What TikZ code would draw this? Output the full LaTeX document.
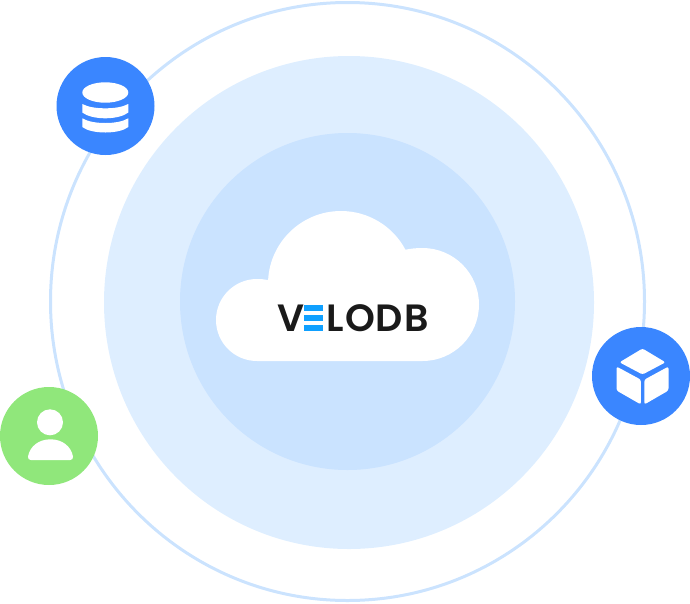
\documentclass[tikz,border=0pt]{standalone}
\usepackage{fontspec}
\setmainfont{Poppins}[UprightFont=* SemiBold,BoldFont=* Bold]
\definecolor{ringblue}{HTML}{CBE3FE}
\definecolor{midblue}{HTML}{DEEEFF}
\definecolor{innerblue}{HTML}{CAE3FF}
\definecolor{iconblue}{HTML}{3A86FF}
\definecolor{icongreen}{HTML}{90E77B}
\definecolor{logoblue}{HTML}{0FA0FF}
\definecolor{logoblack}{HTML}{1A1A1A}
\tikzset{
  icondisc/.style={circle,inner sep=0pt,minimum size=98pt,fill=#1},
  glyph/.style={fill=white,draw=none},
  facet/.style={fill=white,draw=none,rounded corners=2.2pt},
  logobar/.style={fill=logoblue,draw=none},
}
\begin{document}
\begin{tikzpicture}[x=1pt,y=-1pt]
\useasboundingbox (0,0) rectangle (690,603);
% rings
\draw[ringblue,line width=3pt] (347.5,301.5) ellipse[x radius=297,y radius=299];
\fill[midblue] (349,302.5) ellipse[x radius=245,y radius=246.5];
\fill[innerblue] (347.5,301.5) ellipse[x radius=167.5,y radius=168.5];
% cloud
\fill[white] (257,361) arc[start angle=90,end angle=270,radius=41]
  .. controls (261,279) and (264.5,279.3) .. (268,280) -- (268,284)
  arc[start angle=180,end angle=332,radius=73]
  .. controls (410,248.7) and (416,248) .. (422.5,248)
  arc[start angle=-90,end angle=90,radius=56.5] -- cycle;
% wordmark
\node[anchor=base west,inner sep=0pt,text=logoblack,font=\fontsize{38}{38}\selectfont] (logo) at (277.3,331)
  {V\hspace{1pt}\textcolor{white}{E}\hspace{1pt}L\hspace{1pt}O\hspace{1pt}D\hspace{1pt}B};
\fill[logobar] (304,304.7) rectangle (323,310.7);
\fill[logobar] (304,315.2) rectangle (323,320.8);
\fill[logobar] (304,325.4) rectangle (323,331);
% database icon
\node[icondisc=iconblue] (db) at (105.5,106) {};
\fill[glyph] (105.3,92.5) ellipse[x radius=23,y radius=10.2];
\fill[glyph] (82.3,104) .. controls (88,107) and (96,108.3) .. (105.3,108.3)
  .. controls (114.6,108.3) and (122.6,107) .. (128.3,104) -- (128.3,112.5)
  .. controls (124,116) and (115,118.3) .. (105.3,118.3)
  .. controls (95.6,118.3) and (86.6,116) .. (82.3,112.5) -- cycle;
\fill[glyph] (82.3,118.3) .. controls (88,121.6) and (96,123) .. (105.3,123)
  .. controls (114.6,123) and (122.6,121.6) .. (128.3,118.3) -- (128.3,127)
  .. controls (124,130.5) and (115,132.5) .. (105.3,132.5)
  .. controls (95.6,132.5) and (86.6,130.5) .. (82.3,127) -- cycle;
% cube icon
\node[icondisc=iconblue] (cube) at (641,376) {};
\fill[facet] (642.5,348.5) -- (665.5,362.3) -- (642.5,374.5) -- (619.5,362.3) -- cycle;
\fill[facet] (616.5,366.5) -- (640.9,379.7) -- (640.9,404.5) -- (616.5,390.5) -- cycle;
\fill[facet] (644.3,379.7) -- (668.5,366.5) -- (668.5,390.5) -- (644.3,404.5) -- cycle;
% person icon
\node[icondisc=icongreen] (user) at (49,436) {};
\fill[glyph] (50,422.3) circle[radius=13];
\fill[glyph] (28,456.5) .. controls (30,446) and (39,439.3) .. (50.5,439.3)
  .. controls (62,439.3) and (71,446) .. (73,456.5)
  .. controls (73.3,459) and (72,460) .. (70,460) -- (31,460)
  .. controls (29,460) and (27.7,459) .. (28,456.5) -- cycle;
\end{tikzpicture}
\end{document}
